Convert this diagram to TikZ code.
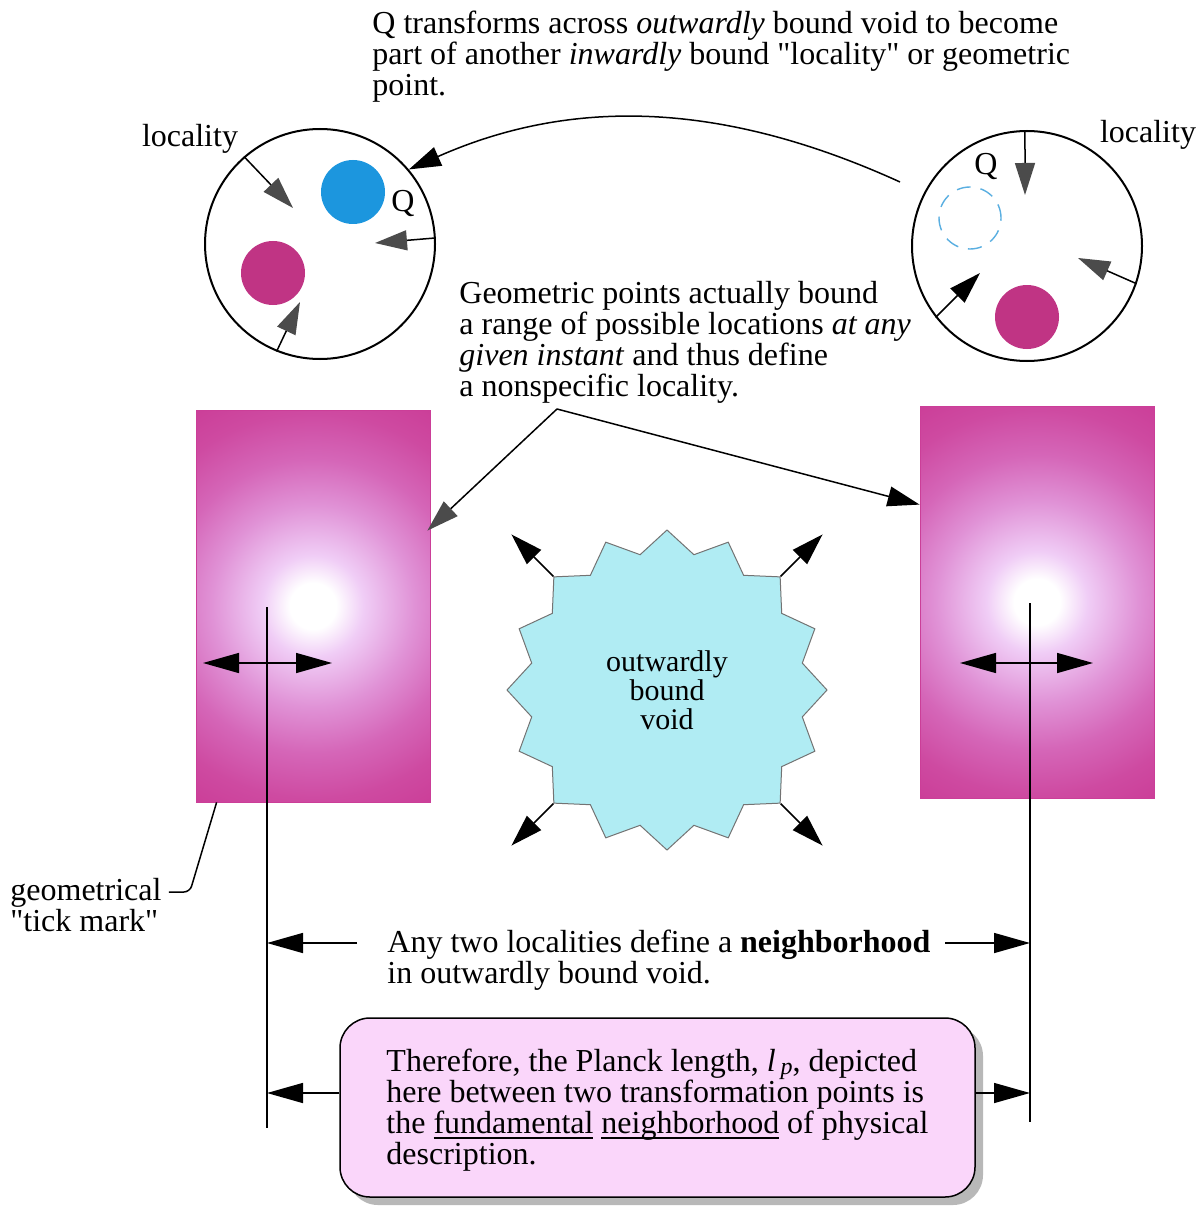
\documentclass[tikz,border=0pt]{standalone}
\usepackage{fontspec}
\setmainfont{Liberation Serif}[Ligatures=TeXOff]
\usetikzlibrary{arrows.meta,shapes.geometric,shadows,calc}

\definecolor{dotblue}{RGB}{28,150,222}
\definecolor{dashblue}{RGB}{90,175,225}
\definecolor{dotmagenta}{RGB}{192,52,132}
\definecolor{voidcyan}{RGB}{176,236,243}
\definecolor{boxpink}{RGB}{250,214,250}
\definecolor{rimmagenta}{RGB}{203,62,152}
\definecolor{glowA}{RGB}{240,205,246}
\definecolor{glowB}{RGB}{224,146,214}
\definecolor{glowC}{RGB}{213,102,184}
\definecolor{glowD}{RGB}{206,74,161}
\definecolor{tipgray}{RGB}{75,75,75}

% bright spot fading out to magenta (25bp = radius of the shaded circle)
\pgfdeclareradialshading{glow}{\pgfpoint{0bp}{0bp}}{%
  color(0bp)=(white); color(2.5bp)=(white); color(5.5bp)=(glowA);
  color(11bp)=(glowB); color(16bp)=(glowC); color(21bp)=(glowD);
  color(25bp)=(rimmagenta); color(50bp)=(rimmagenta)}

% underline at a fixed depth below the baseline
\newcommand\undl[1]{\sbox0{#1}\rlap{\rule[-2.5pt]{\wd0}{0.6pt}}\usebox0}

\begin{document}
\begin{tikzpicture}[x=0.5pt,y=-0.5pt,
  every node/.style={font=\fontsize{16}{15.5}\selectfont, inner sep=0pt},
  conn/.style={line width=0.75pt},
  tipk/.style={-{Triangle[length=16pt,width=10pt]}},
  tipg/.style={-{Triangle[length=16pt,width=10pt,color=tipgray]}},
  tipd/.style={-{Triangle[length=18pt,width=10pt]}},
  dbl/.style={{Triangle[length=18pt,width=10pt]}-{Triangle[length=18pt,width=10pt]}},
  ring/.style={circle, draw, line width=1pt, minimum size=115pt},
  spot/.style={circle, minimum size=32pt},
  locrect/.style={rectangle, minimum width=117pt, minimum height=196pt,
    fill=rimmagenta, draw=rimmagenta, line width=0.4pt,
    path picture={\shade[shading=glow] (path picture bounding box.center) circle (115pt);}},
  para/.style={align=left, anchor=north west}]

\fill[white] (0,0) rectangle (1203,1209);
\useasboundingbox (0,0) rectangle (1203,1209);

% two localities as glowing rectangles
\node[locrect] (locL) at (313,606) {};
\node[locrect] (locR) at (1037,602) {};

% locality circles
\node[ring] (cL) at (320,244) {};
\node[ring] (cR) at (1027,246) {};
\node[spot, fill=dotblue] (qL) at (353,192) {};
\node[spot, fill=dotmagenta] (mL) at (273,273) {};
\node[circle, minimum size=31pt, draw=dashblue, line width=0.7pt, dash pattern=on 7pt off 5pt] (qR) at (970,218) {};
\node[spot, fill=dotmagenta] (mR) at (1027,317) {};

\node[anchor=base] (qLabL) at (403,212) {Q};
\node[anchor=base] (qLabR) at (986,175) {Q};
\node[anchor=base] (locLabL) at (190,147) {locality};
\node[anchor=base] (locLabR) at (1148,143) {locality};

% arrows pressing in on the circles
\coordinate (aL1) at (293,208);
\coordinate (aL2) at (375,243);
\coordinate (aL3) at (300,302);
\draw[conn,tipg] (cL.131) -- (aL1);
\draw[conn,tipg] (cL.3) -- (aL2);
\draw[conn,tipg] (cL.248) -- (aL3);
\coordinate (aR1) at (1025,195);
\coordinate (aR2) at (1078,258);
\coordinate (aR3) at (980,273);
\draw[conn,tipg] (cR.91) -- (aR1);
\draw[conn,tipg] (cR.341) -- (aR2);
\draw[conn,tipk] (cR.218) -- (aR3);

% Q hops from one locality to the other
\node[para] (hopText) at (372,11) {Q transforms across \textit{outwardly} bound void to become\\part of another \textit{inwardly} bound "locality" or geometric\\point.};
\coordinate (hopStart) at (900,182);
\draw[conn,tipk] (hopStart) .. controls (720,100) and (570,98) .. (cL.40);

% explanation of geometric points
\node[para] (geoText) at (459,281) {Geometric points actually bound\\a range of possible locations \textit{at any}\\\textit{given instant} and thus define\\a nonspecific locality.};
\coordinate (geoFork) at (557,409);
\draw[conn,tipg] (geoFork) -- ($(locL.north east)+(-3,121)$);
\draw[conn,tipk] (geoFork) -- ($(locR.north west)+(0,99)$);

% the void between them
\node[star, star points=16, star point ratio=1.16, minimum size=160pt,
  fill=voidcyan, draw=black!55, line width=0.5pt, align=center,
  font=\fontsize{15}{14.5}\selectfont] (void) at (667,690) {outwardly\\bound\\void};
\coordinate (vUL) at ($(void.center)+(135:110pt)$);
\coordinate (vLL) at ($(void.center)+(225:110pt)$);
\coordinate (vLR) at ($(void.center)+(315:110pt)$);
\coordinate (vUR) at ($(void.center)+(45:110pt)$);
\draw[conn,tipk] (void.outer point 3) -- (vUL);
\draw[conn,tipk] (void.outer point 7) -- (vLL);
\draw[conn,tipk] (void.outer point 11) -- (vLR);
\draw[conn,tipk] (void.outer point 15) -- (vUR);

% tick marks
\coordinate (tickLtop) at (267,607);
\coordinate (tickLbot) at (267,1128);
\coordinate (tickLw) at (203,663);
\coordinate (tickLe) at (332,663);
\draw[conn] (tickLtop) -- (tickLbot);
\draw[conn,dbl] (tickLw) -- (tickLe);
\coordinate (tickRtop) at (1030,603);
\coordinate (tickRbot) at (1030,1122);
\coordinate (tickRw) at (960,663);
\coordinate (tickRe) at (1093,663);
\draw[conn] (tickRtop) -- (tickRbot);
\draw[conn,dbl] (tickRw) -- (tickRe);

\node[para] (tickLab) at (10,878) {geometrical\\"tick mark"};
\draw[conn, rounded corners=3pt] ($(tickLab.north east)+(7,14)$) -- ++(21,0) -- ($(locL.south west)+(21,0)$);

% neighborhood dimension
\node[para] (nbText) at (387,930) {Any two localities define a \textbf{neighborhood}\\in outwardly bound void.};
\coordinate (nbL) at (357,943);
\coordinate (nbR) at (945,943);
\draw[conn,tipd] (nbL) -- (tickLtop |- nbL);
\draw[conn,tipd] (nbR) -- (tickRtop |- nbR);

% Planck length box
\node[align=left, draw, line width=0.75pt, fill=boxpink, rounded corners=15pt,
  minimum width=317.5pt, minimum height=89.5pt,
  drop shadow={shadow xshift=4pt, shadow yshift=-4pt, fill=black!55}] (planck) at (657.5,1107.5)
  {\rule{0pt}{14pt}Therefore, the Planck length, \textit{l}\hspace{2.5pt}\raisebox{-1.5pt}[0pt][0pt]{\fontsize{12}{12}\selectfont\textit{p}}, depicted\\here between two transformation points is\\the \undl{fundamental} \undl{neighborhood} of physical\\description.};
\coordinate (plL) at ($(planck.west)+(0,-14.5)$);
\coordinate (plR) at ($(planck.east)+(0,-14.5)$);
\draw[conn,tipd] (plL) -- (tickLtop |- plL);
\draw[conn,tipd] (plR) -- (tickRtop |- plR);

\end{tikzpicture}
\end{document}
